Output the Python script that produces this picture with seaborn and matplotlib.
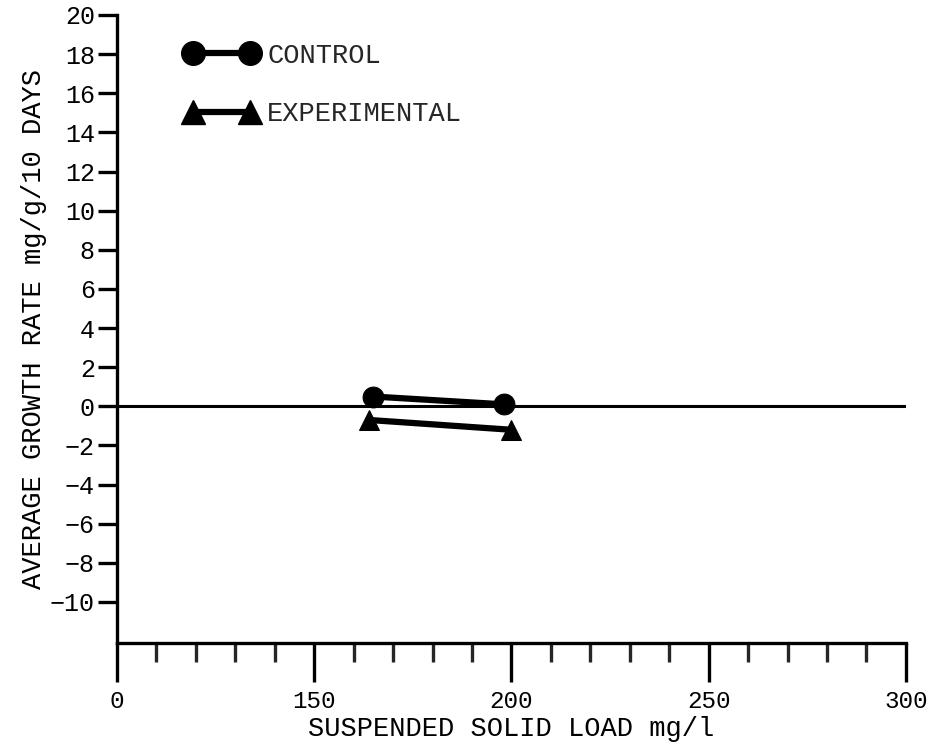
import matplotlib
matplotlib.use("Agg")
import matplotlib.pyplot as plt
from matplotlib.ticker import MultipleLocator
from matplotlib.lines import Line2D
import seaborn as sns
import pandas as pd

# Growth rate vs suspended solid load
control_load = [165, 198]
control_rate = [0.5, 0.1]
experimental_load = [164, 200]
experimental_rate = [-0.7, -1.2]

x_major = [100, 150, 200, 250, 300]
x_major_labels = ["0", "150", "200", "250", "300"]
y_ticks = [20, 18, 16, 14, 12, 10, 8, 6, 4, 2, 0, -2, -4, -6, -8, -10]

sns.set_theme(style="white")
plt.rcParams["font.family"] = ["Liberation Mono", "DejaVu Sans Mono"]

df = pd.concat([
    pd.DataFrame({"load": control_load, "rate": control_rate, "group": "CONTROL"}),
    pd.DataFrame({"load": experimental_load, "rate": experimental_rate, "group": "EXPERIMENTAL"}),
])

fig = plt.figure(figsize=(9.33, 7.46), dpi=100)
ax = fig.add_axes([0.1254, 0.138, 0.971 - 0.1254, 0.9799 - 0.138])

ax.axhline(0, color="black", lw=2.2, zorder=1)

sns.lineplot(data=df, x="load", y="rate", hue="group", style="group",
             markers={"CONTROL": "o", "EXPERIMENTAL": "^"}, dashes=False,
             palette={"CONTROL": "black", "EXPERIMENTAL": "black"},
             markersize=15, linewidth=4.5, markeredgecolor="black",
             legend=False, ax=ax, zorder=3)

ax.set_xlim(100, 300)
ax.set_ylim(-12.1, 20)

ax.set_xticks(x_major)
ax.set_xticklabels(x_major_labels)
ax.xaxis.set_minor_locator(MultipleLocator(10))
ax.set_yticks(y_ticks)

for s in ["top", "right"]:
    ax.spines[s].set_visible(False)
for s in ["left", "bottom"]:
    ax.spines[s].set_linewidth(2.4)
    ax.spines[s].set_color("black")

ax.tick_params(axis="x", which="major", direction="out", length=28, width=2.4,
               labelsize=17.5, pad=6, bottom=True, colors="black")
ax.tick_params(axis="x", which="minor", direction="out", length=14, width=2.4, bottom=True)
ax.tick_params(axis="y", which="major", direction="out", length=14, width=2.4,
               labelsize=18, pad=2, left=True, colors="black")

ax.set_xlabel("SUSPENDED SOLID LOAD mg/l", fontsize=19.5, labelpad=2, color="black")
ax.set_ylabel("AVERAGE GROWTH RATE mg/g/10 DAYS", fontsize=19.5, labelpad=2, color="black")

handles = [
    Line2D([], [], color="black", marker="o", markersize=17, linewidth=4.5),
    Line2D([], [], color="black", marker="^", markersize=17, linewidth=4.5),
]
ax.legend(handles, ["CONTROL", "EXPERIMENTAL"], loc="upper left",
          bbox_to_anchor=(0.055, 0.995), frameon=False, fontsize=19.5,
          numpoints=2, handlelength=2.7, handletextpad=0.35, labelspacing=1.2)

fig.savefig("out.png", dpi=100, facecolor="white")
